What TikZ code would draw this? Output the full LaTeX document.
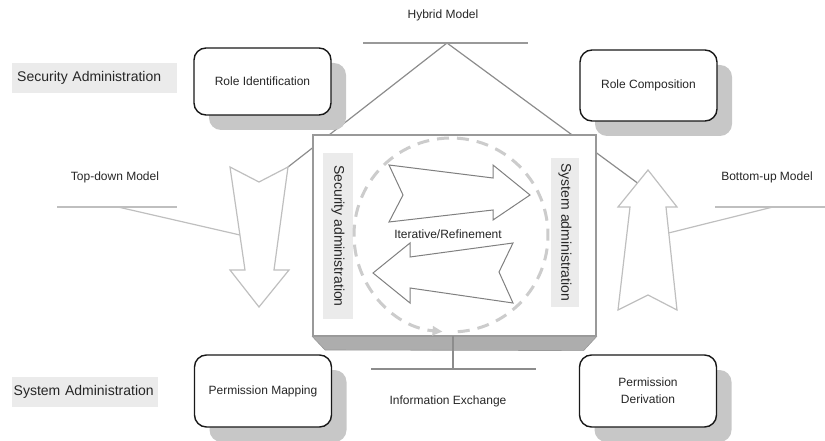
\documentclass[tikz,border=0pt]{standalone}
\usepackage{fontspec}
\setmainfont{Liberation Sans}
\usetikzlibrary{shadows,arrows.meta}

\tikzset{
  rolebox/.style={draw=black!90,line width=1.4pt,rounded corners=12pt,fill=white,
    minimum width=137pt,minimum height=70pt,inner sep=2pt,
    drop shadow={shadow xshift=15pt,shadow yshift=-15pt,fill=black!22,opacity=1}},
  tagbox/.style={fill=black!8,inner ysep=0pt,minimum height=30pt,
    font=\fontsize{14}{16}\selectfont},
  roof/.style={draw=black!45,line width=1.2pt},
  hybridline/.style={draw=black!40,line width=1.8pt},
  modelline/.style={draw=black!25,line width=1.2pt},
  bigarrow/.style={draw=black!25,line width=1.2pt,fill=white,line join=miter},
  flowarrow/.style={draw=black!50,line width=1pt,fill=white,line join=miter},
  corebox/.style={draw=black!40,line width=1.2pt,fill=white,
    minimum width=283pt,minimum height=201pt},
  bevel/.style={fill=black!32,draw=black!40,line width=0.6pt},
  xline/.style={draw=black!45,line width=1.2pt},
  loopline/.style={draw=black!20,line width=3pt,dash pattern=on 12pt off 8pt,
    -{Triangle[length=10pt,width=9pt]}}
}

\begin{document}
\begin{tikzpicture}[x=1pt,y=-1pt,font=\fontsize{12}{14}\selectfont,text=black!85]
	\useasboundingbox (0,0) rectangle (825,441);

	\node (hybrid) at (443,15) {Hybrid Model};
	\coordinate (hl) at (363,43);
	\coordinate (hr) at (528,43);
	\coordinate (apex) at (447,43);
	\coordinate (dncorner) at (288,167);
	\coordinate (upcorner) at (637.5,183);
	\draw[roof] (apex) -- (dncorner);
	\draw[roof] (apex) -- (upcorner);
	\draw[hybridline] (hl) -- (hr);

	\draw[bigarrow] (230,167) -- (259,182) -- (288,167) -- (274,270) -- (289,270)
		-- (259,307) -- (230,270) -- (245,270) -- cycle;
	\draw[bigarrow] (648,170) -- (677,207) -- (666,207) -- (677,310) -- (648,295)
		-- (618,310) -- (630,207) -- (618,207) -- cycle;

	\node (topdown) at (115,177) {Top-down Model};
	\coordinate (tdl) at (57,207);
	\coordinate (tdr) at (177,207);
	\coordinate (tdk) at (118,207);
	\coordinate (tdhit) at (240,235);
	\draw[modelline] (tdl) -- (tdr);
	\draw[modelline] (tdk) -- (tdhit);

	\node (bottomup) at (767,177) {Bottom-up Model};
	\coordinate (bul) at (715,207);
	\coordinate (bur) at (825,207);
	\coordinate (buk) at (773,207);
	\coordinate (buhit) at (668.5,233);
	\draw[modelline] (bul) -- (bur);
	\draw[modelline] (buk) -- (buhit);

	\node[tagbox,anchor=west,inner xsep=5pt,text width=155pt,align=left] (secadm) at (12,78) {Security Administration};
	\node[tagbox,anchor=west,inner xsep=1.5pt,text width=143pt,align=left] (sysadm) at (12,392) {System Administration};

	\node[rolebox,minimum height=67pt] (roleid) at (262.5,81.5) {Role Identification};
	\node[rolebox,minimum height=71pt] (rolecomp) at (648.5,85.5) {Role Composition};
	\node[rolebox,minimum height=72pt] (permmap) at (263,391) {Permission Mapping};
	\node[rolebox,minimum height=72pt,align=center,font=\fontsize{12}{17}\selectfont] (permder) at (648,391) {Permission\\Derivation};

	\node[corebox] (core) at (454.5,235.5) {};
	\draw[bevel] (core.south west) -- (core.south east) -- ++(-13,14) -- (325,350) -- cycle;
	\coordinate (xl) at (371,369);
	\coordinate (xr) at (536,369);
	\draw[xline] (xl) -- (xr);
	\draw[xline] (453,336) -- (453,369);
	\node (infoex) at (448,401) {Information Exchange};

	\node[tagbox,rotate=-90,minimum width=166pt,minimum height=30pt] (secvert) at (338,236) {Security administration};
	\node[tagbox,rotate=-90,minimum width=149pt,minimum height=28pt] (sysvert) at (565,232.5) {System administration};

	\draw[loopline] (451,235) ++(446:97) arc[start angle=446,end angle=95,radius=97];

	\draw[flowarrow] (389,165) -- (493,178) -- (493,165) -- (530,195) -- (493,220)
		-- (493,210) -- (389,222) -- (403,195) -- cycle;
	\draw[flowarrow] (373,273) -- (410,243) -- (410,257) -- (513,243) -- (499,272)
		-- (513,303) -- (410,288) -- (410,303) -- cycle;
	\node[fill=white,inner sep=1pt] (iter) at (448,234) {Iterative/Refinement};
\end{tikzpicture}
\end{document}
